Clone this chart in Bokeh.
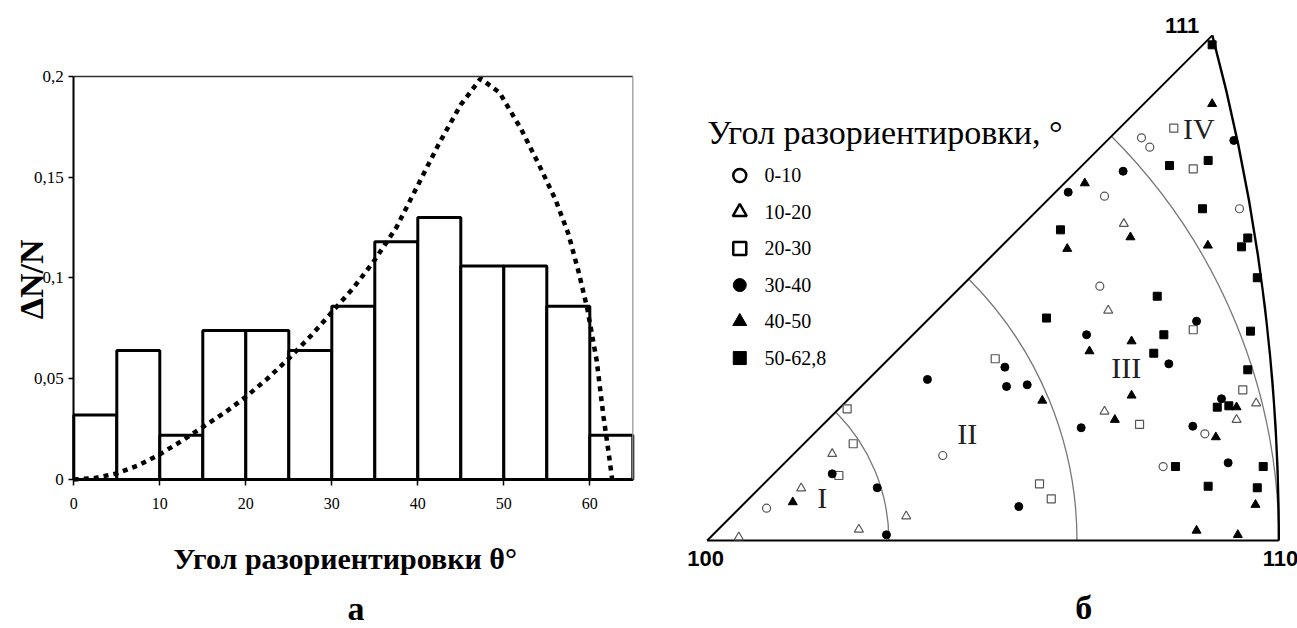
import numpy as np
from bokeh.plotting import figure
from bokeh.models import Range1d, FixedTicker, CustomJSTickFormatter, Label, LinearAxis
from bokeh.embed import file_html
from bokeh.resources import INLINE
from bokeh.core.properties import value

SERIF = "Liberation Serif"
SANS = "Liberation Sans"

# ---------------- panel "а": histogram of misorientation angles ----------------
bin_left = [0, 5, 10, 15, 20, 25, 30, 35, 40, 45, 50, 55, 60]
bin_right = [5, 10, 15, 20, 25, 30, 35, 40, 45, 50, 55, 60, 65]
freq = [0.032, 0.064, 0.022, 0.074, 0.074, 0.064, 0.086, 0.118, 0.130, 0.106, 0.106, 0.086, 0.022]

curve_theta = [0, 2.5, 5, 7.5, 10, 12.5, 15, 17.5, 20, 22.5, 25, 27.5, 30, 32.5, 35, 37.5,
               40, 42.5, 45, 47.3, 49.5, 52, 54, 56, 57.5, 58.7, 59.7, 60.8, 61.6, 62.2, 62.6]
curve_freq = [0.0, 0.0008, 0.003, 0.007, 0.0125, 0.019, 0.026, 0.033, 0.041, 0.050, 0.060,
              0.071, 0.083, 0.095, 0.109, 0.125, 0.146, 0.167, 0.186, 0.199, 0.192, 0.174,
              0.157, 0.139, 0.122, 0.103, 0.085, 0.059, 0.031, 0.013, 0.0]

x_ticks = [0, 10, 20, 30, 40, 50, 60]
y_ticks = [0, 0.05, 0.1, 0.15, 0.2]
hist_x_lim = (0, 65)
hist_y_lim = (0, 0.2)

# ---------------- panel "б": stereographic triangle ----------------
# stereographic coordinates (x100) of the orientations, by misorientation class
c0_x = [4.30, 17.07, 36.06, 33.04, 31.47, 32.07, 28.79, 38.57, 28.45]
c0_y = [2.34, 6.16, 7.73, 5.36, 29.18, 28.50, 24.95, 24.04, 18.43]
c1_x = [9.06, 6.81, 10.99, 2.29, 14.42, 29.06, 28.79, 39.78, 38.36, 30.19]
c1_y = [6.28, 3.79, 0.80, 0.24, 1.76, 16.67, 9.35, 9.95, 8.75, 22.95]
c2_x = [10.14, 10.58, 9.54, 20.87, 35.22, 38.81, 31.33, 24.08, 24.93, 33.81, 35.22]
c2_y = [9.54, 7.01, 4.71, 13.17, 15.27, 10.92, 8.41, 4.11, 3.02, 29.88, 26.93]
c3_x = [9.06, 12.32, 12.99, 15.96, 21.57, 21.69, 23.19, 22.58, 27.49, 27.10, 33.45, 35.46,
        37.27, 35.19, 37.75, 38.16, 30.14, 26.16]
c3_y = [4.83, 3.82, 0.41, 11.67, 12.56, 11.16, 11.28, 2.46, 14.91, 8.17, 12.80, 15.89,
        10.27, 8.28, 5.63, 28.99, 26.76, 25.24]
c4_x = [6.20, 24.28, 30.75, 27.70, 30.75, 29.54, 38.36, 36.86, 39.73, 35.46, 38.45, 36.59,
        27.36, 30.67, 26.09, 36.28]
c4_y = [2.78, 10.14, 14.44, 13.72, 10.51, 8.75, 9.66, 7.49, 2.59, 0.72, 0.41, 31.64,
        25.89, 21.98, 21.14, 21.38]
c5_x = [24.59, 33.09, 32.36, 39.37, 39.17, 36.96, 37.80, 40.29, 33.93, 36.30, 39.86, 36.59,
        33.50, 36.30, 35.89, 25.60, 39.17, 38.72, 39.86, 32.61]
c5_y = [16.12, 14.91, 13.57, 15.17, 12.37, 9.66, 9.76, 5.36, 5.36, 3.93, 3.82, 35.92,
        27.17, 27.54, 24.04, 22.51, 21.92, 21.28, 19.04, 17.70]

class_labels = ["0-10", "10-20", "20-30", "30-40", "40-50", "50-62,8"]
zone_angles = [15, 30, 45]          # degrees from <100>
zone_names = ["I", "II", "III", "IV"]
zone_x = [8.33, 18.84, 30.36, 35.62]
zone_y = [3.14, 7.73, 12.56, 29.88]

# ================= one canvas: stereographic units on the default ranges =================
p = figure(width=1297, height=628,
           x_range=Range1d(-51.21, 42.775), y_range=Range1d(-6.377, 39.13),
           x_axis_type=None, y_axis_type=None, output_backend="svg",
           toolbar_location=None, min_border=0)
p.title.visible = False
p.grid.visible = False
p.outline_line_color = None
p.background_fill_color = "white"
p.border_fill_color = "white"

# histogram gets its own ranges (frame of panel а: 73..632 px, 76..479 px)
p.extra_x_ranges = {"hx": Range1d(-8.523, 142.29)}
p.extra_y_ranges = {"hy": Range1d(-0.07395, 0.23772)}
H = dict(x_range_name="hx", y_range_name="hy")

# =============================== panel а ===============================
p.quad(left=bin_left, right=bin_right, bottom=0, top=freq,
       fill_color="white", line_color="black", line_width=3, **H)
p.line(curve_theta, curve_freq, line_color="black", line_width=4.5, line_dash="5 5", **H)
# box edges (top, right)
p.line([hist_x_lim[0], hist_x_lim[1]], [hist_y_lim[1], hist_y_lim[1]],
       line_color="#333333", line_width=1.5, **H)
p.line([hist_x_lim[1], hist_x_lim[1]], [hist_y_lim[0], hist_y_lim[1]],
       line_color="#999999", line_width=1.3, **H)

xa = LinearAxis(fixed_location=0, bounds=hist_x_lim, **H)
xa.ticker = FixedTicker(ticks=x_ticks)
xa.axis_line_width = 2
xa.major_tick_out = 6
xa.major_tick_in = 0
xa.minor_tick_out = 0
xa.minor_tick_in = 0
xa.major_tick_line_width = 1.5
xa.major_label_text_font = SERIF
xa.major_label_text_font_size = "16px"
xa.major_label_text_color = "black"
xa.major_label_standoff = 13
p.add_layout(xa, "below")

ya = LinearAxis(fixed_location=0, bounds=hist_y_lim, **H)
ya.ticker = FixedTicker(ticks=y_ticks)
ya.formatter = CustomJSTickFormatter(code="return String(Math.round(tick*100)/100).replace('.', ',');")
ya.axis_line_width = 2
ya.major_tick_out = 5
ya.major_tick_in = 0
ya.minor_tick_out = 0
ya.minor_tick_in = 0
ya.major_tick_line_width = 1.5
ya.major_label_text_font = SERIF
ya.major_label_text_font_size = "17px"
ya.major_label_text_color = "black"
ya.major_label_standoff = 5
p.add_layout(ya, "left")

p.add_layout(Label(x=-4.9, y=0.0993, text="ΔN/N", angle=np.pi / 2,
                   text_align="center", text_baseline="middle",
                   text_font=SERIF, text_font_style="bold", text_font_size="34px",
                   text_color="black", **H))
p.add_layout(Label(x=32.0, y=-0.0392, text="Угол разориентировки  θ°",
                   text_align="center", text_baseline="middle",
                   text_font=SERIF, text_font_style="bold", text_font_size="30px",
                   text_color="black", **H))
p.add_layout(Label(x=32.8, y=-0.0640, text="а",
                   text_align="center", text_baseline="middle",
                   text_font=SERIF, text_font_style="bold", text_font_size="34px",
                   text_color="black", **H))

# =============================== panel б ===============================
# zone boundaries: small circles around <100> (radius = tan(angle/2) in stereographic projection)
zone_r = [100 * np.tan(np.radians(a) / 2) for a in zone_angles]
p.arc(x=0, y=0, radius=zone_r, start_angle=0, end_angle=np.pi / 4,
      line_color="#777777", line_width=1.3)

# triangle edges
t110 = 100 * np.tan(np.radians(22.5))
t111 = 100 * np.tan(np.arccos(1 / np.sqrt(3)) / 2) / np.sqrt(2)
p.line([0, t110], [0, 0], line_color="black", line_width=2.2)
p.line([0, t111], [0, t111], line_color="black", line_width=2)
p.arc(x=-100, y=0, radius=100 * np.sqrt(2), start_angle=0,
      end_angle=np.arctan2(t111, 100 + t111), line_color="black", line_width=2.4)

open_style = dict(fill_color="white", line_color="#555555", line_width=1.2)
fill_style = dict(fill_color="black", line_color="black", line_width=1)
p.scatter(c0_x, c0_y, marker="circle", size=8, **open_style)
p.scatter(c1_x, c1_y, marker="triangle", size=9, **open_style)
p.scatter(c2_x, c2_y, marker="square", size=8, **open_style)
p.scatter(c3_x, c3_y, marker="circle", size=8, **fill_style)
p.scatter(c4_x, c4_y, marker="triangle", size=9, **fill_style)
p.scatter(c5_x, c5_y, marker="square", size=8, **fill_style)

# zone names
p.text(zone_x, zone_y, text=zone_names, text_align="center", text_baseline="middle",
       text_font=value(SERIF), text_font_size="30px", text_color="#222222")

# corner labels
for tx, ty, tt in [(-0.12, -1.30, "100"), (41.54, -1.30, "110"), (34.42, 37.32, "111")]:
    p.add_layout(Label(x=tx, y=ty, text=tt, text_align="center", text_baseline="middle",
                       text_font=SANS, text_font_style="bold", text_font_size="22px",
                       text_color="black"))

# legend (drawn manually)
leg_y = [26.45, 23.80, 21.16, 18.51, 15.87, 13.22]
leg_markers = ["circle", "triangle", "square", "circle", "triangle", "square"]
leg_fill = ["white", "white", "white", "black", "black", "black"]
p.add_layout(Label(x=0, y=29.57, text="Угол разориентировки, °", text_align="left",
                   text_baseline="middle", text_font=SERIF, text_font_size="34px",
                   text_color="black"))
for yy, mk, fc in zip(leg_y, leg_markers, leg_fill):
    p.scatter([2.36], [yy], marker=mk, size=13 if mk != "triangle" else 14,
              fill_color=fc, line_color="black", line_width=2.5 if fc == "white" else 1)
p.text([4.15] * len(class_labels), leg_y, text=class_labels, text_align="left",
       text_baseline="middle", text_font=value(SERIF), text_font_size="20px",
       text_color="black")

p.add_layout(Label(x=27.29, y=-4.86, text="б", text_align="center", text_baseline="middle",
                   text_font=SERIF, text_font_style="bold", text_font_size="34px",
                   text_color="black"))

open("out.html", "w").write(file_html(p, INLINE))
